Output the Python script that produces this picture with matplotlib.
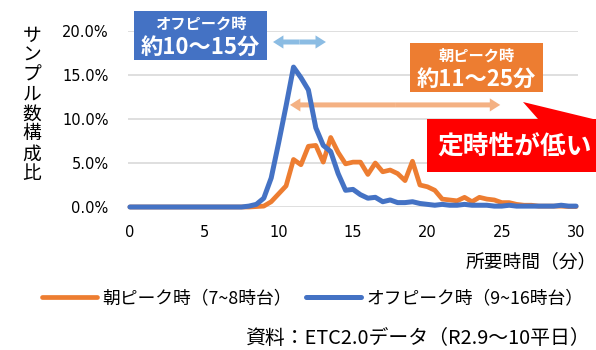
import numpy as np
import matplotlib
matplotlib.use("Agg")
import matplotlib.pyplot as plt
from matplotlib.patches import Rectangle, Polygon, FancyArrowPatch

plt.rcParams['font.family'] = ['Noto Sans CJK JP', 'DejaVu Sans']

# travel time (minutes), 0.5 minute bins
minutes = np.arange(0, 30.5, 0.5)

# share of samples (%) - morning peak (7-8h)
morning = [0, 0, 0, 0, 0, 0, 0, 0, 0, 0, 0, 0, 0, 0, 0, 0, 0,
           0.05, 0.1, 0.6, 1.5, 2.4, 5.4, 4.8, 6.9, 7.0, 5.1, 7.9, 6.2, 4.9,
           5.1, 5.1, 3.7, 5.0, 4.0, 4.2, 3.8, 3.0, 5.2, 2.5, 2.3, 1.9,
           0.9, 0.8, 0.7, 1.1, 0.6, 1.1, 0.9, 0.8, 0.5, 0.5, 0.3, 0.2,
           0.2, 0.1, 0.1, 0.1, 0.1, 0.05, 0.05]

# share of samples (%) - off peak (9-16h)
offpeak = [0, 0, 0, 0, 0, 0, 0, 0, 0, 0, 0, 0, 0, 0, 0, 0, 0.1,
           0.3, 1.0, 3.3, 7.3, 11.5, 15.9, 14.7, 13.3, 9.0, 7.0, 6.3, 3.8, 1.9,
           2.0, 1.4, 1.0, 1.1, 0.6, 0.8, 0.5, 0.5, 0.6, 0.4, 0.3, 0.2,
           0.3, 0.2, 0.2, 0.3, 0.2, 0.2, 0.2, 0.1, 0.1, 0.2, 0.1, 0.1,
           0.1, 0.1, 0.1, 0.1, 0.2, 0.1, 0.1]

yticks = [0, 5, 10, 15, 20]
xticks = [0, 5, 10, 15, 20, 25, 30]

labels = ['朝ピーク時（7~8時台）', 'オフピーク時（9~16時台）']
c_orange = '#ED7D31'
c_blue = '#4472C4'

W, H = 596, 350


def px(x, y):
    # pixel position -> figure fraction
    return x / W, 1 - y / H


fig = plt.figure(figsize=(5.96, 3.5), dpi=100)
ax = fig.add_axes([128 / W, 1 - 207 / H, 450 / W, 176 / H])

ax.plot(minutes, morning, color=c_orange, lw=3.4, solid_capstyle='round',
        solid_joinstyle='round', clip_on=False, label=labels[0], zorder=3)
ax.plot(minutes, offpeak, color=c_blue, lw=3.6, solid_capstyle='round',
        solid_joinstyle='round', clip_on=False, label=labels[1], zorder=4)

ax.set_xlim(-0.13, 30.13)
ax.set_ylim(0, 20)
ax.set_yticks(yticks)
ax.set_yticklabels([f'{v:.1f}%' for v in yticks], family='DejaVu Sans', fontsize=10.5)
ax.set_xticks(xticks)
ax.set_xticklabels([str(v) for v in xticks], family='DejaVu Sans', fontsize=10.5)
ax.tick_params(axis='y', length=0, pad=14)
ax.tick_params(axis='x', length=0, pad=13)
ax.grid(axis='y', color='#D9D9D9', lw=1.2)
ax.set_axisbelow(True)
for s in ax.spines.values():
    s.set_visible(False)

# y label, stacked characters
ylab = 'サンプル数構成比'
for i, ch in enumerate(ylab):
    fig.text(*px(32, 35 + i * 19.8), ch, ha='center', va='center', fontsize=13.5)

fig.text(*px(466, 262), '所要時間（分）', ha='left', va='center', fontsize=13.5)

# double arrows
def double_arrow(x0, x1, y, color):
    mid = (x0 + x1) / 2
    for end in (x0, x1):
        ax.add_patch(FancyArrowPatch((mid, y), (end, y), arrowstyle='simple,head_length=0.75,head_width=0.95,tail_width=0.36',
                                     mutation_scale=10, color=color, lw=0, shrinkA=0, shrinkB=0,
                                     clip_on=False, zorder=2))

double_arrow(9.62, 13.18, 18.75, '#8BBCE3')
double_arrow(10.76, 24.9, 11.6, '#F4B183')

# annotation boxes
def label_box(x0, y0, x1, y1, color, line1, line2):
    fig.add_artist(Rectangle(px(x0, y1), (x1 - x0) / W, (y1 - y0) / H,
                             transform=fig.transFigure, color=color, lw=0, zorder=5))
    cx = (x0 + x1) / 2
    fig.text(*px(cx, y0 + 13), line1, ha='center', va='center', color='white',
             fontsize=11, fontweight='bold', zorder=6)
    fig.text(*px(cx, y0 + 37), line2, ha='center', va='center', color='white',
             fontsize=16, fontweight='bold', zorder=6)

label_box(134, 11, 267, 60, c_blue, 'オフピーク時', '約10〜15分')
label_box(410, 43, 543, 92, c_orange, '朝ピーク時', '約11〜25分')

# red callout
callout = [(427, 119), (538, 119), (523, 102), (593, 119), (600, 119),
           (600, 172), (427, 172)]
fig.add_artist(Polygon([px(x, y) for x, y in callout], closed=True,
                       transform=fig.transFigure, color='#FF0000', lw=0, zorder=5))
fig.text(*px(437, 146), '定時性が低い', ha='left', va='center', color='white',
         fontsize=18.5, fontweight='bold', zorder=6)

# legend
leg = ax.legend(loc='center left', bbox_to_anchor=px(42, 298), bbox_transform=fig.transFigure,
                ncol=2, frameon=False, fontsize=12.8, handlelength=3.1, handletextpad=0.3,
                columnspacing=0.8, borderpad=0, borderaxespad=0)
for h in leg.get_lines():
    h.set_solid_capstyle('round')

fig.text(*px(245, 338), '資料：ETC2.0データ（R2.9〜10平日）', ha='left', va='center',
         fontsize=14.3)

fig.savefig('out.png', dpi=100)
